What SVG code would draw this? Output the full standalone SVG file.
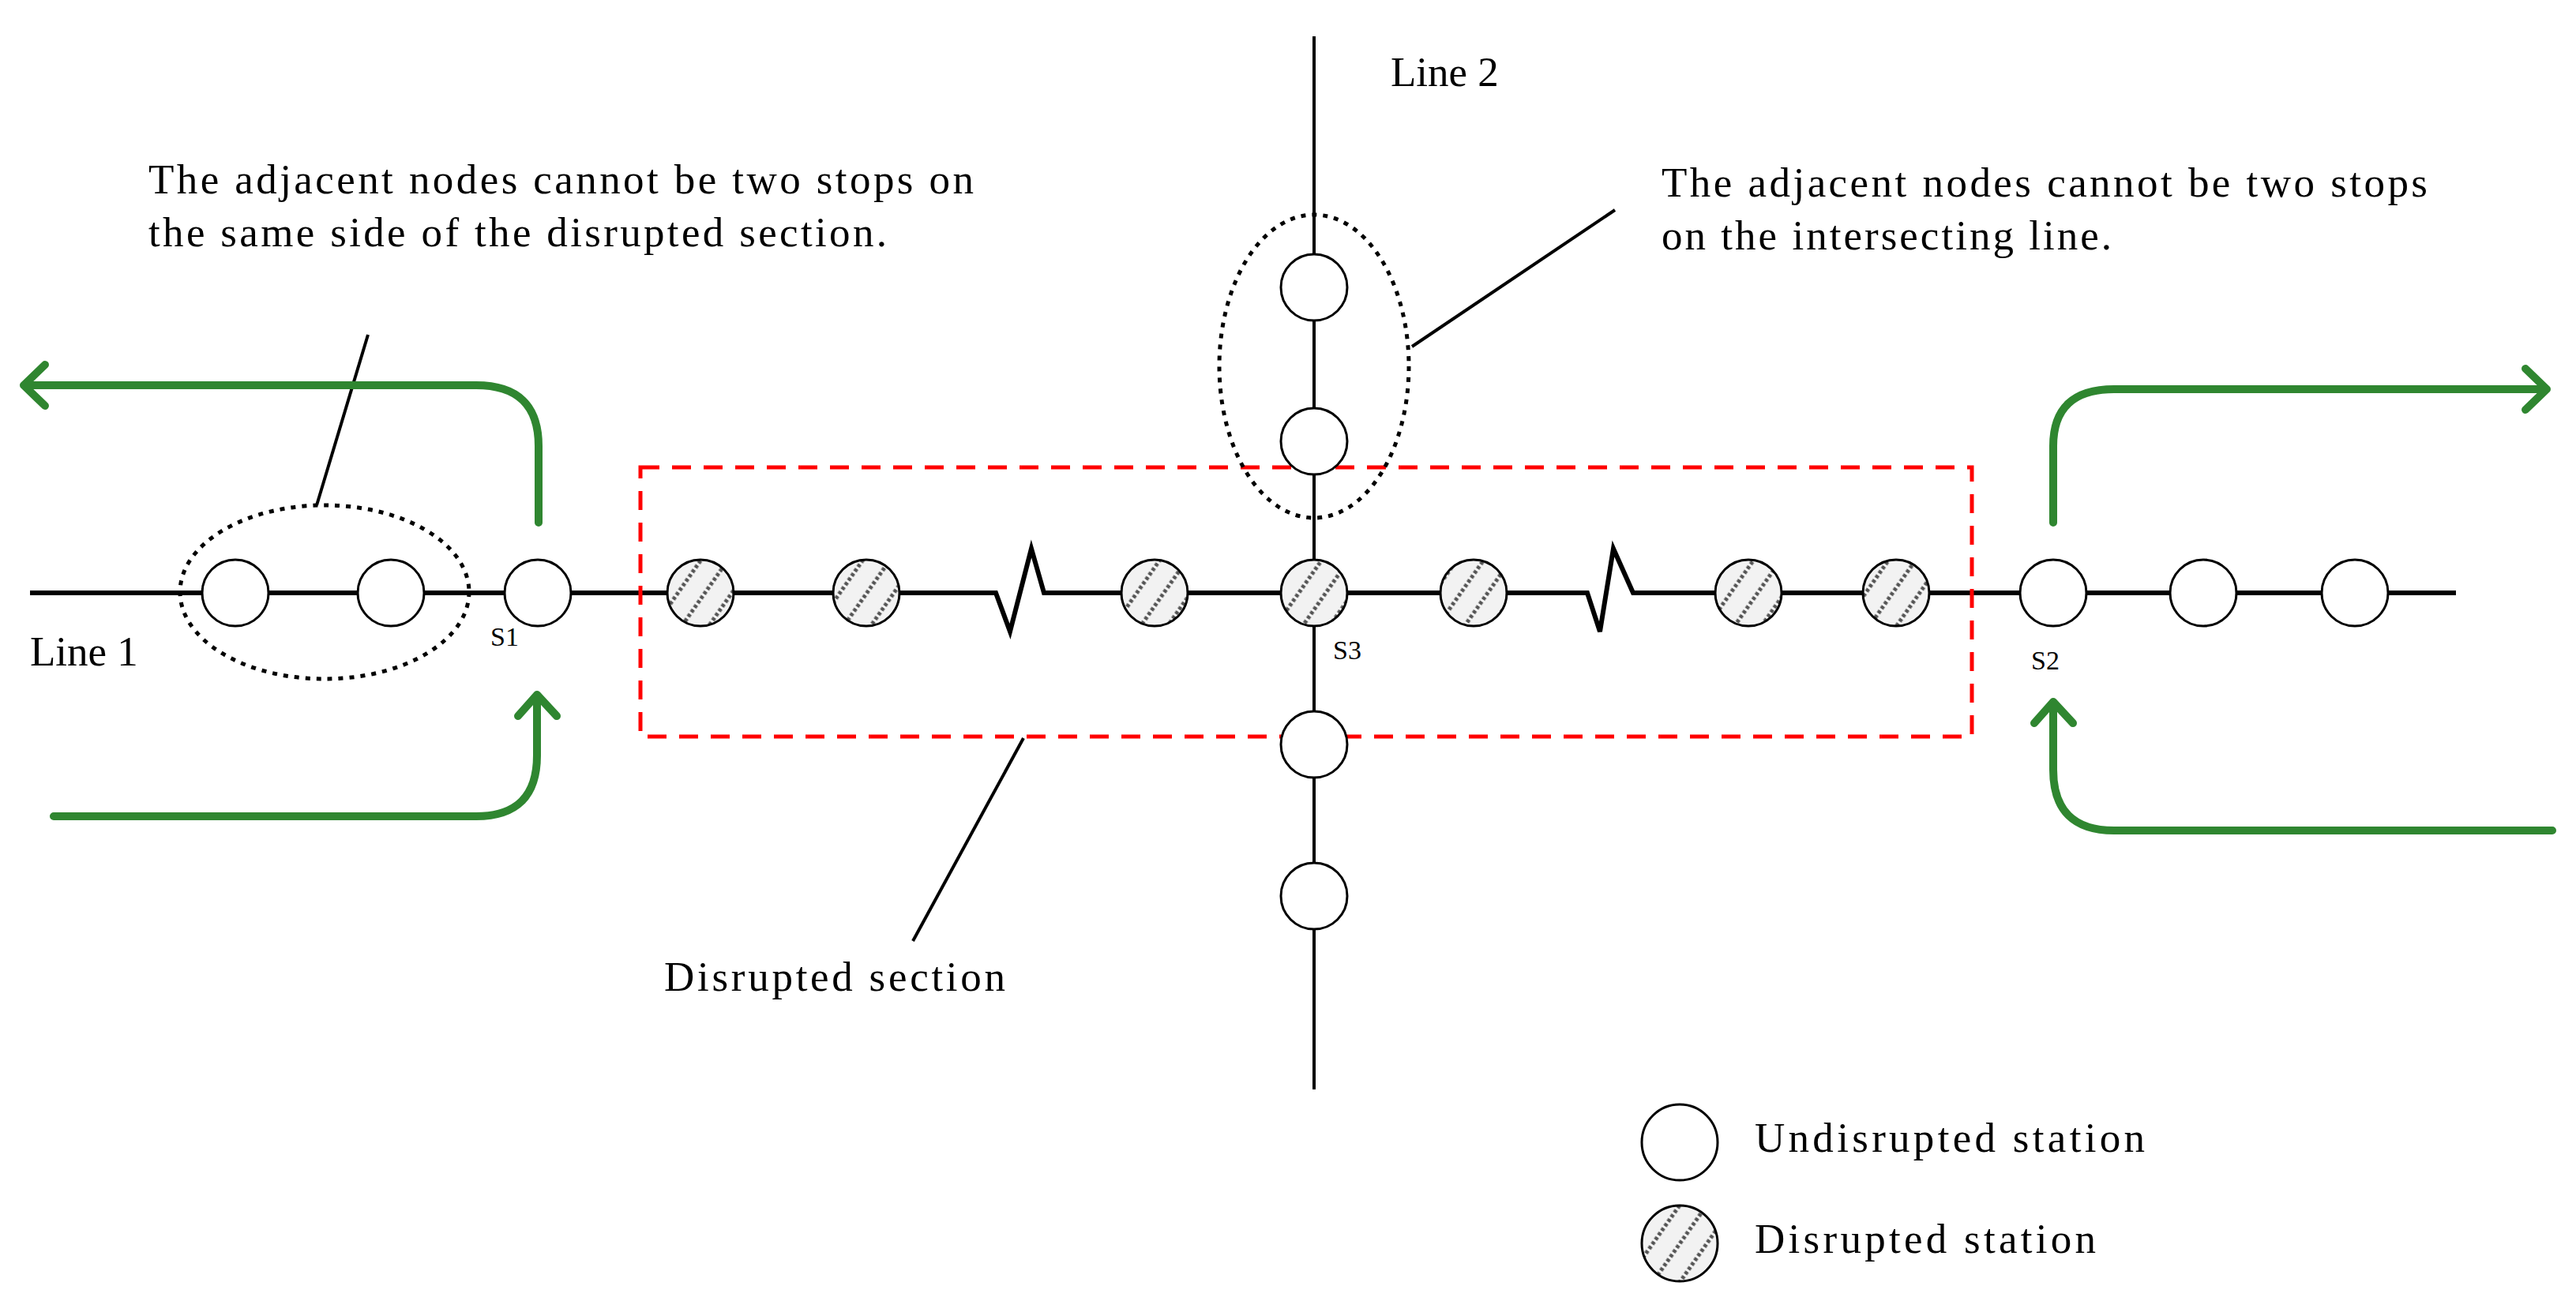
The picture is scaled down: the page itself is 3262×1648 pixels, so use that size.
<svg xmlns="http://www.w3.org/2000/svg" width="3262" height="1648" viewBox="0 0 3262 1648">
<style>
.ln{stroke:#000;stroke-width:6;fill:none}
.thin{stroke:#000;stroke-width:4;fill:none}
.st{fill:#fff;stroke:#000;stroke-width:3}
.ds{fill:url(#hatch);stroke:#000;stroke-width:3}
.dot{fill:none;stroke:#000;stroke-width:5;stroke-dasharray:6 8}
.grn{fill:none;stroke:#2f8630;stroke-width:10;stroke-linecap:round;stroke-linejoin:round}
.red{fill:none;stroke:#ff0000;stroke-width:5;stroke-dasharray:24 16}
text{font-family:"Liberation Serif",serif;fill:#000}
.t{font-size:53px}
.s{font-size:34px}
</style>
<defs>
<pattern id="hatch" patternUnits="userSpaceOnUse" width="28" height="28" patternTransform="rotate(-55)">
<rect width="28" height="28" fill="#f2f2f2"/>
<line x1="0" y1="14" x2="28" y2="14" stroke="#555" stroke-width="5" stroke-dasharray="4 3"/>
</pattern>
</defs>
<rect width="3262" height="1648" fill="#fff"/>
<g id="connectors">
<polyline class="ln" points="38,751 1261,751 1279,800 1306,695 1322,751 2010,751 2026,800 2043,695 2068,751 3110,751"/>
<line class="thin" x1="1664" y1="46" x2="1664" y2="1380"/>
<line class="thin" x1="466" y1="424" x2="401" y2="640"/>
<line class="thin" x1="1788" y1="439" x2="2045" y2="266"/>
<line class="thin" x1="1156" y1="1192" x2="1296" y2="935"/>
<path class="grn" d="M682,662 V565 Q682,488 603,488 H30 M57,462 L30,488 L57,514"/>
<path class="grn" d="M68,1034 H603 Q680,1034 680,957 V880 M656,907 L680,880 L705,907"/>
<path class="grn" d="M2600,662 V565 Q2600,493 2677,493 H3225 M3198,467 L3225,493 L3198,519"/>
<path class="grn" d="M3232,1052 H2677 Q2600,1052 2600,975 V889 M2576,916 L2600,889 L2625,916"/>
</g>
<g id="disrupted-section"><rect class="red" x="811" y="592" width="1686" height="341"/></g>
<g id="group-left"><ellipse class="dot" cx="411" cy="750" rx="183" ry="110"/></g>
<g id="group-top"><ellipse class="dot" cx="1664" cy="464" rx="120" ry="192"/></g>
<g id="stations">
<circle class="st" cx="298" cy="751" r="42"/>
<circle class="st" cx="495" cy="751" r="42"/>
<circle class="st" cx="681" cy="751" r="42"/>
<circle class="ds" cx="887" cy="751" r="42"/>
<circle class="ds" cx="1097" cy="751" r="42"/>
<circle class="ds" cx="1462" cy="751" r="42"/>
<circle class="ds" cx="1664" cy="751" r="42"/>
<circle class="ds" cx="1866" cy="751" r="42"/>
<circle class="ds" cx="2214" cy="751" r="42"/>
<circle class="ds" cx="2401" cy="751" r="42"/>
<circle class="st" cx="2600" cy="751" r="42"/>
<circle class="st" cx="2790" cy="751" r="42"/>
<circle class="st" cx="2982" cy="751" r="42"/>
<circle class="st" cx="1664" cy="364" r="42"/>
<circle class="st" cx="1664" cy="559" r="42"/>
<circle class="st" cx="1664" cy="943" r="42"/>
<circle class="st" cx="1664" cy="1135" r="42"/>
</g>
<g id="labels">
<text class="t" x="188" y="245" textLength="1045">The adjacent nodes cannot be two stops on</text>
<text class="t" x="188" y="312" textLength="935">the same side of the disrupted section.</text>
<text class="t" x="2104" y="249" textLength="970">The adjacent nodes cannot be two stops</text>
<text class="t" x="2104" y="316" textLength="570">on the intersecting line.</text>
<text class="t" x="1761" y="109">Line 2</text>
<text class="t" x="38" y="843">Line 1</text>
<text class="s" x="621" y="818">S1</text>
<text class="s" x="1688" y="835">S3</text>
<text class="s" x="2572" y="848">S2</text>
<text class="t" x="841" y="1255" textLength="432">Disrupted section</text>
</g>
<g id="legend">
<circle class="st" cx="2127" cy="1447" r="48"/>
<text class="t" x="2222" y="1459" textLength="494">Undisrupted station</text>
<circle class="ds" cx="2127" cy="1575" r="48"/>
<text class="t" x="2222" y="1587" textLength="432">Disrupted station</text>
</g>
</svg>
